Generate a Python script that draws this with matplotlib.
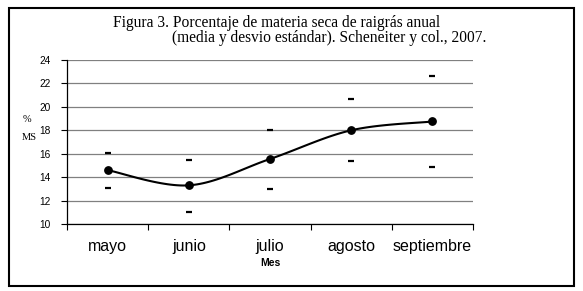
import numpy as np
import matplotlib
matplotlib.use("Agg")
import matplotlib.pyplot as plt
from matplotlib.patches import Rectangle

months = ["mayo", "junio", "julio", "agosto", "septiembre"]
media = [14.6, 13.3, 15.55, 18.0, 18.75]
sup = [16.1, 15.5, 18.0, 20.7, 22.65]
inf = [13.05, 11.0, 13.0, 15.4, 14.85]
yticks = [10, 12, 14, 16, 18, 20, 22, 24]

W, H = 583, 291
fig = plt.figure(figsize=(W / 100, H / 100), dpi=100)

L, R, T, B = 67, 473, 60, 224
ax = fig.add_axes([L / W, 1 - B / H, (R - L) / W, (B - T) / H])

x = np.arange(len(months)) + 0.5
y = np.array(media)


def smooth(xs, ys, n=30):
    # Excel-like smoothed line: Catmull-Rom via cubic Bezier segments
    px, py = [], []
    k = len(xs)
    for i in range(k - 1):
        p0 = np.array([xs[max(i - 1, 0)], ys[max(i - 1, 0)]])
        p1 = np.array([xs[i], ys[i]])
        p2 = np.array([xs[i + 1], ys[i + 1]])
        p3 = np.array([xs[min(i + 2, k - 1)], ys[min(i + 2, k - 1)]])
        c1 = p1 + (p2 - p0) / 6
        c2 = p2 - (p3 - p1) / 6
        t = np.linspace(0, 1, n)[:, None]
        pts = ((1 - t) ** 3) * p1 + 3 * ((1 - t) ** 2) * t * c1 + 3 * (1 - t) * t ** 2 * c2 + t ** 3 * p2
        px.extend(pts[:, 0])
        py.extend(pts[:, 1])
    return np.array(px), np.array(py)


sx, sy = smooth(x, y)
ax.plot(sx, sy, color="black", lw=1.5, zorder=3, solid_capstyle="round")
ax.plot(x, y, "o", color="black", ms=5.3, zorder=4)
ax.plot(x, sup, "_", color="black", ms=5, mew=1.6, zorder=4)
ax.plot(x, inf, "_", color="black", ms=5, mew=1.6, zorder=4)

ax.set_xlim(0, 5)
ax.set_ylim(10, 24)
ax.set_yticks(yticks)
ax.set_yticklabels([str(v) for v in yticks], fontsize=7.3, family="Liberation Sans")
ax.set_xticks(np.arange(6))
ax.set_xticklabels([])
ax.set_xticks(x, minor=True)
ax.set_xticklabels(months, minor=True, fontsize=11.5, family="Liberation Sans")
ax.tick_params(axis="x", which="minor", length=0, pad=11)
ax.tick_params(axis="x", which="major", length=4, width=0.8, direction="out")
ax.tick_params(axis="y", length=4, width=0.8, direction="out", pad=8)

ax.grid(axis="y", color="#808080", lw=0.9)
ax.set_axisbelow(True)
for s in ["top", "right"]:
    ax.spines[s].set_visible(False)
for s in ["left", "bottom"]:
    ax.spines[s].set_linewidth(0.9)
    ax.spines[s].set_color("black")

fig.text(270 / W, 1 - 263 / H, "Mes", fontsize=7.5, fontweight="bold",
         family="Liberation Sans", ha="center", va="center")
fig.text(27 / W, 1 - 120 / H, "%", fontsize=7.5, family="Liberation Serif", ha="center", va="center")
fig.text(29 / W, 1 - 137 / H, "MS", fontsize=7.5, family="Liberation Serif", ha="center", va="center")

fig.text(113 / W, 1 - 27 / H, "Figura 3. Porcentaje de materia seca de raigrás anual",
         fontsize=11.2, family="Liberation Serif", ha="left", va="baseline")
fig.text(172 / W, 1 - 42.5 / H, "(media y desvio estándar). Scheneiter y col., 2007.",
         fontsize=11.2, family="Liberation Serif", ha="left", va="baseline")

fig.patches.append(Rectangle((9 / W, 1 - 286 / H), 565 / W, 278 / H, transform=fig.transFigure,
                             fill=False, lw=1.5, edgecolor="black"))

fig.savefig("out.png", dpi=100)
